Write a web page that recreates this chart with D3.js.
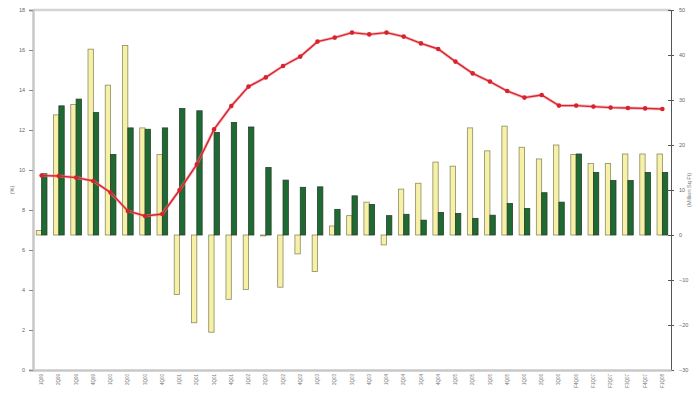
<!DOCTYPE html>
<html><head><meta charset="utf-8">
<script src="https://cdn.jsdelivr.net/npm/d3@7"></script>
<style>body{margin:0;background:#fff}svg{display:block}</style>
</head><body><svg id="c" width="695" height="394"></svg>
<script>
const categories = ["1Q99","2Q99","3Q99","4Q99","1Q00","2Q00","3Q00","4Q00","1Q01","2Q01","3Q01","4Q01","1Q02","2Q02","3Q02","4Q02","1Q03","2Q03","3Q03","4Q03","1Q04","2Q04","3Q04","4Q04","1Q05","2Q05","3Q05","4Q05","1Q06","2Q06","3Q06","F4Q06","F1Q07","F2Q07","F3Q07","F4Q07","F1Q08"];
const yellowValues = [1.0,26.7,29.0,41.3,33.3,42.1,23.8,17.9,-13.2,-19.5,-21.6,-14.3,-12.1,-0.2,-11.6,-4.2,-8.1,2.0,4.3,7.3,-2.2,10.2,11.5,16.2,15.3,23.8,18.7,24.2,19.5,16.9,20.0,17.9,15.9,15.9,18.0,18.0,18.0];
const greenValues = [13.6,28.7,30.2,27.2,17.9,23.8,23.5,23.8,28.1,27.6,22.8,25.0,24.0,15.0,12.2,10.6,10.7,5.7,8.7,6.8,4.3,4.6,3.3,5.0,4.8,3.7,4.4,7.0,5.9,9.4,7.3,18.0,13.9,12.1,12.1,13.9,13.9];
const lineValues = [9.72,9.7,9.62,9.45,8.87,7.95,7.7,7.8,9.0,10.28,12.03,13.2,14.17,14.63,15.2,15.67,16.42,16.62,16.87,16.78,16.87,16.67,16.33,16.05,15.42,14.83,14.42,13.95,13.62,13.75,13.22,13.22,13.17,13.12,13.1,13.08,13.05];
const leftTicks = [0,2,4,6,8,10,12,14,16,18];
const rightTicks = [-30,-20,-10,0,10,20,30,40,50];

const svg = d3.select("#c");
const L=33, R=671, T=10, B=370;
const x = d3.scaleBand().domain(categories).range([L,R]).paddingInner(0).paddingOuter(0);
const sub = d3.scaleBand().domain(["y","g"]).range([x.bandwidth()*0.19, x.bandwidth()*0.81]);
const yL = d3.scaleLinear().domain([0,18]).range([B,T]);
const yR = d3.scaleLinear().domain([-30,50]).range([B,T]);
const font = "Liberation Sans, Arial, sans-serif";

// plot frame
svg.append("line").attr("x1",L).attr("x2",R).attr("y1",T).attr("y2",T).attr("stroke","#d4d4d4").attr("stroke-width",2.5);

// bars
const g = svg.append("g");
categories.forEach((c,i)=>{
  const yv = yellowValues[i], gv = greenValues[i];
  g.append("rect").attr("x",x(c)+sub("y")).attr("width",sub.bandwidth())
    .attr("y",yR(Math.max(0,yv))).attr("height",Math.abs(yR(yv)-yR(0)))
    .attr("fill","#f6f1a7").attr("stroke","#8c8a62").attr("stroke-width",0.8);
  g.append("rect").attr("x",x(c)+sub("g")).attr("width",sub.bandwidth())
    .attr("y",yR(Math.max(0,gv))).attr("height",Math.abs(yR(gv)-yR(0)))
    .attr("fill","#1d6b33").attr("stroke","#2a3d2a").attr("stroke-width",0.8);
});

// axes
const axL = svg.append("g").attr("transform",`translate(${L},0)`)
  .call(d3.axisLeft(yL).tickValues(leftTicks).tickSize(4).tickPadding(4));
axL.select(".domain").attr("stroke","#c8c8c8").attr("stroke-width",2.5);
axL.selectAll(".tick line").attr("stroke","#888");
axL.selectAll("text").attr("font-size",5.5).attr("fill","#666").attr("font-family",font);

const axR = svg.append("g").attr("transform",`translate(${R},0)`)
  .call(d3.axisRight(yR).tickValues(rightTicks).tickSize(3).tickPadding(5));
axR.select(".domain").attr("stroke","#555").attr("stroke-width",1);
axR.selectAll(".tick line").attr("stroke","#555").attr("x1",-3);
axR.selectAll("text").attr("font-size",5.5).attr("fill","#666").attr("font-family",font);

const axB = svg.append("g").attr("transform",`translate(0,${B})`)
  .call(d3.axisBottom(x).tickSize(0).tickPadding(3));
axB.select(".domain").attr("stroke","#c8c8c8").attr("stroke-width",2.5);
axB.selectAll("text").attr("font-size",4.5).attr("fill","#777").attr("font-family",font)
  .attr("transform","rotate(-90)").attr("text-anchor","end").attr("dx","-4").attr("dy","-1.5");
// fix rotated tick label positions
axB.selectAll(".tick text").attr("x",-4).attr("y",0).attr("dx",0).attr("dy","0.35em");

// line
const line = d3.line().x((d,i)=>x(categories[i])+x.bandwidth()/2).y(d=>yL(d));
svg.append("path").datum(lineValues).attr("d",line).attr("fill","none")
  .attr("stroke","#f08a90").attr("stroke-width",3).attr("opacity",0.6);
svg.append("path").datum(lineValues).attr("d",line).attr("fill","none")
  .attr("stroke","#d9222e").attr("stroke-width",1.4);
svg.append("g").selectAll("circle").data(lineValues).join("circle")
  .attr("cx",(d,i)=>x(categories[i])+x.bandwidth()/2).attr("cy",d=>yL(d)).attr("r",2.3)
  .attr("fill","#d9222e");

// axis titles
svg.append("text").attr("transform",`translate(14,${(T+B)/2}) rotate(-90)`).attr("text-anchor","middle")
  .attr("font-size",5.5).attr("fill","#777").attr("font-family",font).text("(%)");
svg.append("text").attr("transform",`translate(691,${(T+B)/2}) rotate(-90)`).attr("text-anchor","middle")
  .attr("font-size",5.5).attr("fill","#777").attr("font-family",font).text("(Million Sq Ft)");
</script></body></html>
